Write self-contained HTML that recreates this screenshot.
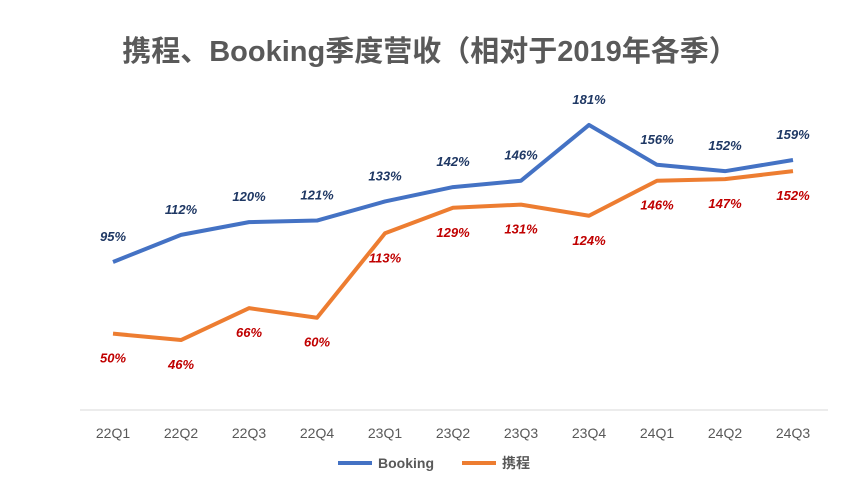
<!DOCTYPE html>
<html><head><meta charset="utf-8">
<style>
html,body{margin:0;padding:0;background:#fff;}
body{width:860px;height:482px;overflow:hidden;font-family:"Liberation Sans","Noto Sans CJK SC",sans-serif;}
</style></head>
<body>
<svg id="chart" width="860" height="482" viewBox="0 0 860 482" xmlns="http://www.w3.org/2000/svg">
<text x="430" y="61" text-anchor="middle" font-size="29" font-weight="bold" fill="#595959" font-family="Liberation Sans, Noto Sans CJK SC, sans-serif">携程、Booking季度营收（相对于2019年各季）</text>
<line x1="80" y1="410" x2="828" y2="410" stroke="#d9d9d9" stroke-width="1"/>
<g id="xlabels"></g>
<g id="series"></g>
<g id="labels"></g>
<g>
<line x1="338" y1="463" x2="372" y2="463" stroke="#4472c4" stroke-width="4"/>
<text x="378" y="468" font-size="14" font-weight="600" fill="#595959">Booking</text>
<line x1="462" y1="463" x2="496" y2="463" stroke="#ed7d31" stroke-width="4"/>
<text x="502" y="468" font-size="14" font-weight="600" fill="#595959">携程</text>
</g>
</svg>
<script>
const categories=["22Q1","22Q2","22Q3","22Q4","23Q1","23Q2","23Q3","23Q4","24Q1","24Q2","24Q3"];
const bookingValues=[95,112,120,121,133,142,146,181,156,152,159];
const ctripValues=[50,46,66,60,113,129,131,124,146,147,152];
const NS="http://www.w3.org/2000/svg";
function xPos(i){return 113+i*68;}
function yPos(v){return 413.3-1.593*v;}
const xg=document.getElementById('xlabels');
categories.forEach((c,i)=>{
  const t=document.createElementNS(NS,'text');
  
  
  t.setAttribute('x',xPos(i));t.setAttribute('y',438);
  t.setAttribute('text-anchor','middle');t.setAttribute('font-size','14');t.setAttribute('fill','#595959');
  t.textContent=c;xg.appendChild(t);
});
const sg=document.getElementById('series'),lg=document.getElementById('labels');
function drawSeries(vals,color,name,labColor,off){
  const p=document.createElementNS(NS,'polyline');
  
  
  p.setAttribute('points',vals.map((v,i)=>xPos(i)+','+yPos(v)).join(' '));
  p.setAttribute('fill','none');p.setAttribute('stroke',color);p.setAttribute('stroke-width','4');
  p.setAttribute('stroke-linejoin','round');
  sg.appendChild(p);
  vals.forEach((v,i)=>{
    const t=document.createElementNS(NS,'text');
    
    
    t.setAttribute('x',xPos(i));t.setAttribute('y',yPos(v)+off);
    t.setAttribute('text-anchor','middle');t.setAttribute('font-size','13');
    t.setAttribute('font-weight','bold');t.setAttribute('font-style','italic');t.setAttribute('fill',labColor);
    t.textContent=v+'%';lg.appendChild(t);
  });
}
drawSeries(bookingValues,'#4472c4','booking','#1f3864',-21);
drawSeries(ctripValues,'#ed7d31','ctrip','#c00000',29);
</script>
</body></html>
